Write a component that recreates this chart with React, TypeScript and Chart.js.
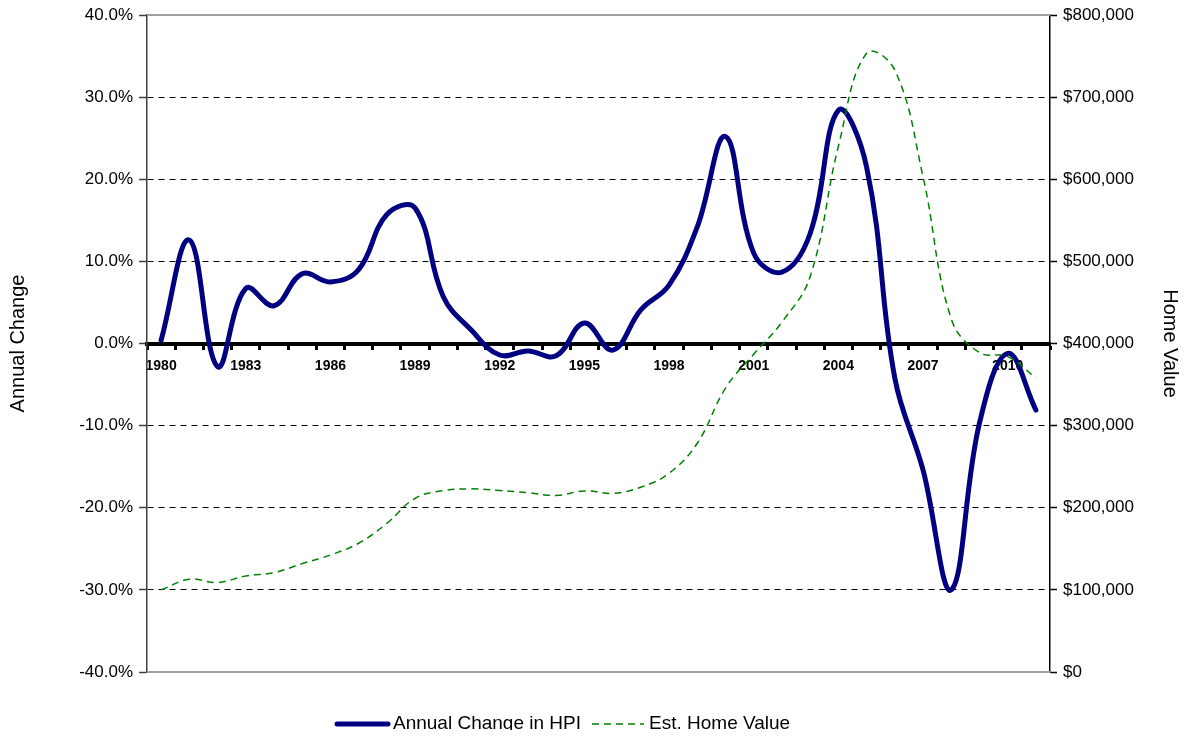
import React, { useEffect, useRef } from 'react';
import { Chart, registerables } from 'chart.js';

Chart.register(...registerables);

const years = [
  '1980', '1981', '1982', '1983', '1984', '1985', '1986', '1987', '1988', '1989',
  '1990', '1991', '1992', '1993', '1994', '1995', '1996', '1997', '1998', '1999',
  '2000', '2001', '2002', '2003', '2004', '2005', '2006', '2007', '2008', '2009',
  '2010', '2011',
];

const hpiChange = [
  0.4, 12.6, -2.8, 6.7, 4.6, 8.5, 7.5, 9.0, 15.7, 16.5,
  5.7, 1.6, -1.4, -0.9, -1.5, 2.5, -0.8, 4.1, 7.1, 14.2,
  25.2, 11.0, 8.7, 13.4, 28.4, 21.5, -4.2, -15.4, -30.0, -9.7,
  -1.2, -8.1,
];

const homeValue = [
  100000, 112900, 109000, 117000, 121000, 132000, 142500, 156800, 181000, 211500,
  220800, 223000, 221000, 218400, 215000, 220500, 217600, 225000, 242000, 278500,
  345600, 387000, 426000, 481500, 640000, 753500, 733000, 603000, 430000, 389000,
  384000, 358000,
];

const leftTicks = { min: -40, max: 40, step: 10 };
const rightTicks = { min: 0, max: 800000, step: 100000 };

const FONT = '"Liberation Sans", Arial, Helvetica, sans-serif';

export default function App() {
  const ref = useRef<HTMLCanvasElement>(null);

  useEffect(() => {
    if (!ref.current) return;

    const framePlugin = {
      id: 'frameLines',
      beforeDatasetsDraw(chart: any) {
        const { ctx, chartArea: a } = chart;
        ctx.save();
        ctx.strokeStyle = '#a0a0a0';
        ctx.lineWidth = 2;
        ctx.beginPath();
        ctx.moveTo(a.left, a.top);
        ctx.lineTo(a.right, a.top);
        ctx.moveTo(a.left, a.bottom);
        ctx.lineTo(a.right, a.bottom);
        ctx.stroke();
        ctx.restore();
      },
    };

    const legendPlugin = {
      id: 'customLegend',
      afterDraw(chart: any) {
        const { ctx, chartArea: a } = chart;
        const ds = chart.data.datasets;
        const y = chart.height - 6;
        ctx.save();
        ctx.font = `19px ${FONT}`;
        ctx.textBaseline = 'middle';
        ctx.fillStyle = '#000';
        let x = a.left + 188;
        ctx.strokeStyle = ds[0].borderColor;
        ctx.lineWidth = 5;
        ctx.lineCap = 'round';
        ctx.setLineDash([]);
        ctx.beginPath();
        ctx.moveTo(x + 2, y);
        ctx.lineTo(x + 53, y);
        ctx.stroke();
        x += 58;
        ctx.fillText(ds[0].label, x, y);
        x += ctx.measureText(ds[0].label).width + 11;
        ctx.strokeStyle = ds[1].borderColor;
        ctx.lineWidth = 1.5;
        ctx.lineCap = 'butt';
        ctx.setLineDash([7, 5]);
        ctx.beginPath();
        ctx.moveTo(x, y);
        ctx.lineTo(x + 52, y);
        ctx.stroke();
        ctx.setLineDash([]);
        x += 57;
        ctx.fillText(ds[1].label, x, y);
        ctx.restore();
      },
    };

    const chart = new Chart(ref.current, {
      type: 'line',
      data: {
        labels: years,
        datasets: [
          {
            label: 'Annual Change in HPI',
            data: hpiChange,
            yAxisID: 'y',
            borderColor: '#000080',
            backgroundColor: '#000080',
            borderWidth: 5,
            pointRadius: 0,
            tension: 0.4,
            fill: false,
            order: 1,
            borderCapStyle: 'round',
            borderJoinStyle: 'round',
          },
          {
            label: 'Est. Home Value',
            data: homeValue,
            yAxisID: 'y1',
            borderColor: '#008000',
            backgroundColor: '#008000',
            borderWidth: 1.5,
            borderDash: [7, 5],
            pointRadius: 0,
            tension: 0.4,
            fill: false,
            order: 0,
          },
        ],
      },
      options: {
        animation: false,
        responsive: true,
        maintainAspectRatio: false,
        layout: { padding: { top: 7, bottom: 58, left: 0, right: 0 } },
        plugins: {
          legend: { display: false },
          tooltip: { enabled: false },
        },
        scales: {
          x: {
            type: 'category',
            position: { y: 0 } as any,
            offset: true,
            grid: {
              offset: true,
              drawOnChartArea: false,
              drawTicks: true,
              tickLength: 4,
              tickWidth: 3,
              tickColor: '#000',
              color: '#000',
            },
            border: { display: true, color: '#000', width: 4 },
            ticks: {
              autoSkip: false,
              maxRotation: 0,
              minRotation: 0,
              padding: 10,
              color: '#000',
              font: { family: FONT, size: 14, weight: 'bold' },
              callback: (_v: any, i: number) => (i % 3 === 0 ? years[i] : ''),
            },
          },
          y: {
            position: 'left',
            min: leftTicks.min,
            max: leftTicks.max,
            ticks: {
              stepSize: leftTicks.step,
              padding: 6,
              color: '#000',
              font: { family: FONT, size: 17, lineHeight: 0.1 },
              callback: (v: any) => Number(v).toFixed(1) + '%',
            },
            grid: {
              color: (c: any) =>
                c.tick && (c.tick.value === 40 || c.tick.value === -40 || c.tick.value === 0)
                  ? 'rgba(0,0,0,0)'
                  : '#000',
              lineWidth: 1,
              tickLength: 8,
              tickColor: '#404040',
              tickWidth: 1.5,
              tickBorderDash: [],
            },
            border: { color: '#404040', width: 1.5, dash: [6, 5] },
            title: {
              display: true,
              text: 'Annual Change',
              color: '#000',
              font: { family: FONT, size: 20, lineHeight: 1 },
              padding: { top: 0, bottom: 0 },
            },
            afterFit: (s: any) => {
              s.width = 139;
            },
          },
          y1: {
            position: 'right',
            min: rightTicks.min,
            max: rightTicks.max,
            ticks: {
              stepSize: rightTicks.step,
              padding: 6,
              color: '#000',
              font: { family: FONT, size: 17, lineHeight: 0.1 },
              callback: (v: any) => '$' + Number(v).toLocaleString('en-US'),
            },
            grid: {
              drawOnChartArea: false,
              tickLength: 7,
              tickColor: '#000',
              tickWidth: 1.5,
            },
            border: { color: '#000', width: 1.5 },
            title: {
              display: true,
              text: 'Home Value',
              color: '#000',
              font: { family: FONT, size: 20, lineHeight: 1 },
              padding: { top: 2, bottom: 0 },
            },
            afterFit: (s: any) => {
              s.width = 132;
            },
          },
        },
      } as any,
      plugins: [framePlugin, legendPlugin],
    });

    return () => chart.destroy();
  }, []);

  return (
    <div style={{ position: 'relative', width: 1174, height: 722 }}>
      <canvas ref={ref} />
    </div>
  );
}
